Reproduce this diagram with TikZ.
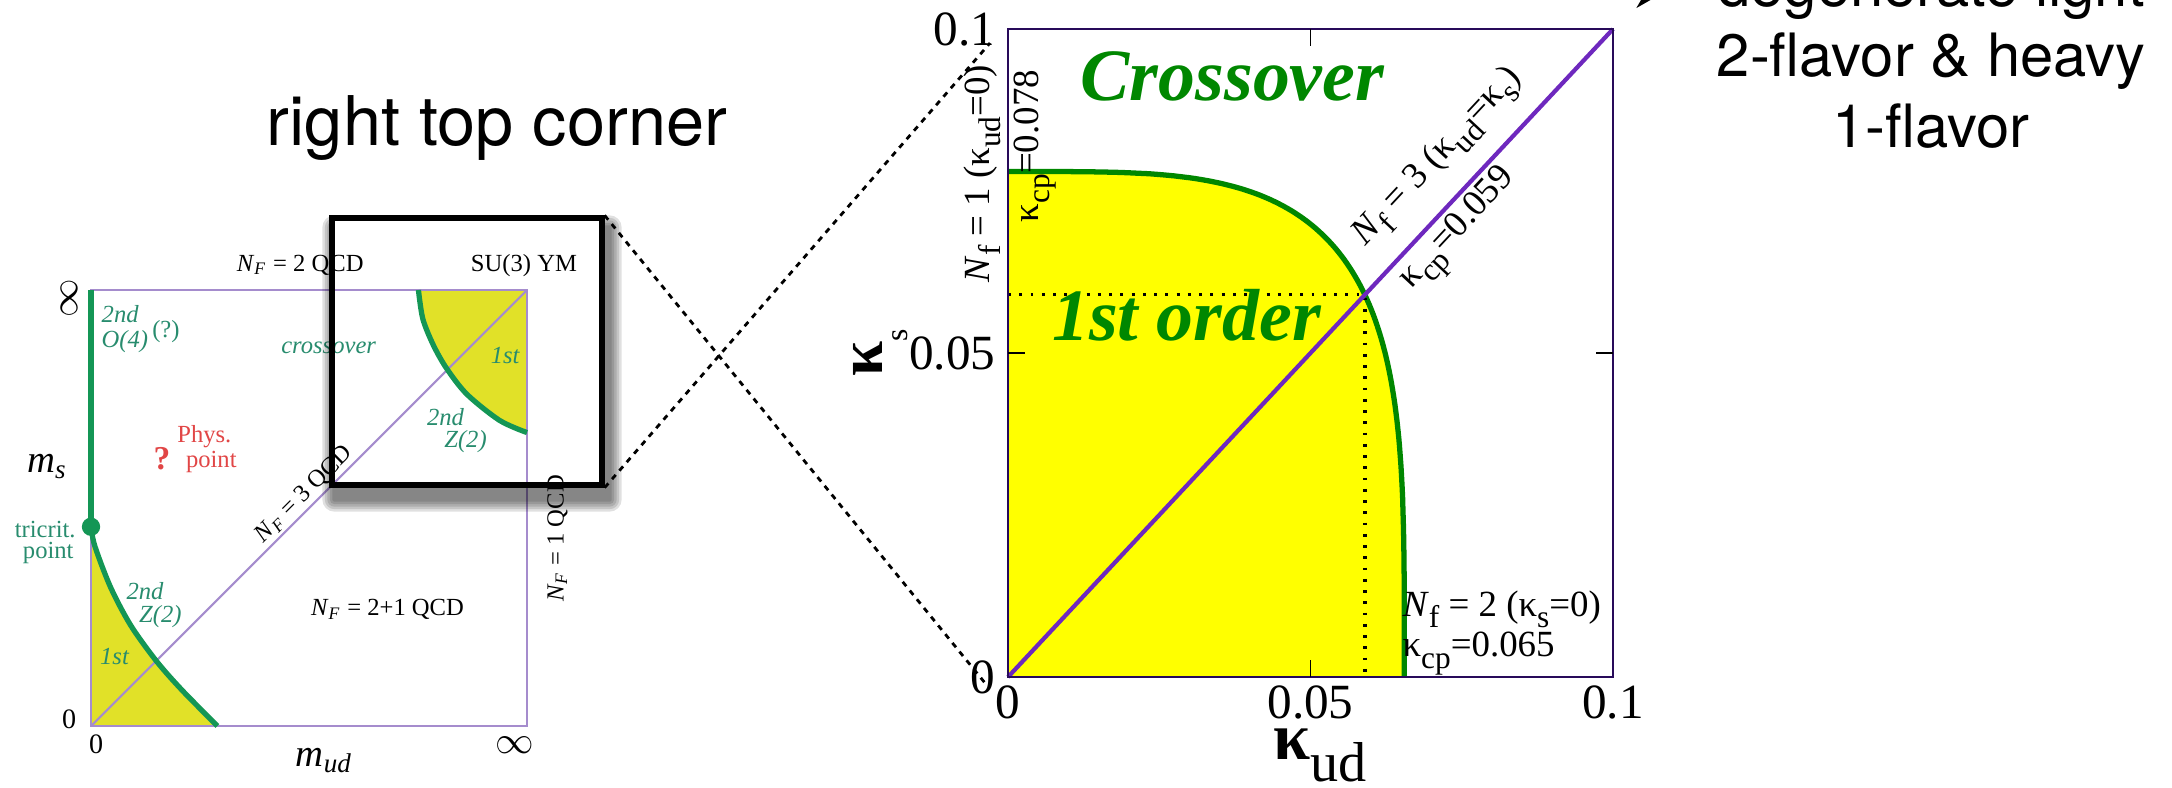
\documentclass[tikz,border=0pt]{standalone}
\usepackage{fontspec}
\usepackage{graphicx}
\setmainfont{Liberation Serif}
\newfontfamily\heros{TeX Gyre Heros}
\usetikzlibrary{
    arrows.meta,
    positioning,
    calc
}
\definecolor{qcdpurple}{RGB}{165,140,205}
\definecolor{qcdgreen}{RGB}{20,150,85}
\definecolor{qcdtext}{RGB}{40,140,110}
\definecolor{qcdyellow}{RGB}{225,225,40}
\definecolor{qcdred}{RGB}{225,70,70}
\definecolor{kapgreen}{RGB}{0,135,0}
\definecolor{kapyellow}{RGB}{255,255,0}
\definecolor{kapviolet}{RGB}{110,40,190}
\definecolor{kapframe}{RGB}{40,10,90}
\newcommand{\lowsub}[1]{\raisebox{-0.3em}{\scalebox{0.85}{#1}}}

\begin{document}
\begin{tikzpicture}[
        x=1cm, y=1cm,
        smalltxt/.style={
            font=\fontsize{7}{8}\selectfont,
            inner sep=0pt
        },
        phase/.style={
            font=\fontsize{7}{8}\selectfont\itshape,
            text=qcdtext,
            inner sep=0pt
        },
        bigphase/.style={
            font=\fontsize{21}{21}\selectfont\bfseries\itshape,
            text=kapgreen,
            inner sep=0pt
        },
        plotlbl/.style={
            font=\fontsize{10.5}{12}\selectfont,
            inner sep=0pt
        },
        ticklbl/.style={
            font=\fontsize{14}{14}\selectfont,
            inner sep=0pt
        },
        heading/.style={
            font=\heros\fontsize{19.5}{20}\selectfont,
            inner sep=0pt
        },
        remark/.style={
            font=\heros\fontsize{17}{20}\selectfont,
            inner sep=0pt
        },
        zoombox/.style={
            draw=black,
            line width=1.5pt,
            minimum width=2.70cm,
            minimum height=2.67cm,
            inner sep=0pt
        },
        zoomline/.style={
            line width=0.8pt,
            dash pattern=on 1.6pt off 1.6pt
        }
    ]

    \useasboundingbox (0,0) rectangle (21.72,7.87);

    \node[heading, anchor=base] (title) at (4.97,6.42) {right top corner};

    % small phase diagram, unit square
    \begin{scope}[shift={(0.91,0.61)}, x=4.36cm, y=4.36cm]
        \fill[qcdyellow] (0,0) -- plot[smooth] coordinates {(0,0.457) (0.009,0.412) (0.045,0.318) (0.091,0.231) (0.15,0.149) (0.209,0.082) (0.29,0)} -- cycle;
        \fill[qcdyellow] (1,1) -- plot[smooth] coordinates {(0.751,1) (0.761,0.934) (0.785,0.874) (0.815,0.821) (0.862,0.761) (0.937,0.701) (1,0.673)} -- cycle;
        \draw[qcdpurple, line width=0.6pt] (0,0) rectangle (1,1);
        \draw[qcdpurple, line width=0.6pt] (0,0) -- (1,1);
        \draw[qcdgreen, line width=1.5pt] plot[smooth] coordinates {(0,0.457) (0.009,0.412) (0.045,0.318) (0.091,0.231) (0.15,0.149) (0.209,0.082) (0.29,0)};
        \draw[qcdgreen, line width=1.5pt] plot[smooth] coordinates {(0.751,1) (0.761,0.934) (0.785,0.874) (0.815,0.821) (0.862,0.761) (0.937,0.701) (1,0.673)};
        \draw[qcdgreen, line width=1.5pt] (0,1) -- (0,0.457);
        \fill[qcdgreen] (0,0.457) circle[radius=0.021];

        \node[smalltxt, anchor=base] (nftwo) at (0.48,1.043) {\textit{N}\textsubscript{\textit{F}} = 2 QCD};
        \node[smalltxt, anchor=base] (suthree) at (0.993,1.043) {SU(3) YM};
        \node[font=\fontsize{11}{11}\selectfont, rotate=90, inner sep=0pt] (inftop) at (-0.05,0.98) {$\infty$};
        \node[font=\fontsize{8}{8}\selectfont, inner sep=0pt] (zeroleft) at (-0.05,0.016) {0};
        \node[font=\fontsize{8}{8}\selectfont, inner sep=0pt] (zerobot) at (0.012,-0.043) {0};
        \node[font=\fontsize{11}{11}\selectfont, inner sep=0pt] (infbot) at (0.972,-0.043) {$\infty$};
        \node[font=\fontsize{11}{11}\selectfont\itshape, inner sep=0pt] (ms) at (-0.1,0.595) {m\textsubscript{s}};
        \node[font=\fontsize{11}{11}\selectfont\itshape, inner sep=0pt] (mud) at (0.535,-0.08) {m\textsubscript{ud}};

        \node[phase, anchor=base west] (otwo) at (0.023,0.925) {2nd};
        \node[phase, anchor=base west] (ofour) at (0.023,0.868) {O(4)\raisebox{0.9ex}{\upshape\,(?)}};
        \node[phase] (crossover) at (0.545,0.867) {crossover};
        \node[smalltxt, text=qcdred] (phys) at (0.26,0.663) {Phys.};
        \node[smalltxt, text=qcdred] (physpt) at (0.276,0.606) {point};
        \node[font=\fontsize{9.5}{10}\selectfont\bfseries, text=qcdred, inner sep=0pt] (qmark) at (0.163,0.612) {?};
        \node[smalltxt, text=qcdtext] (tricrit) at (-0.105,0.45) {tricrit.};
        \node[smalltxt, text=qcdtext] (tript) at (-0.098,0.396) {point};
        \node[phase] (zlowa) at (0.124,0.31) {2nd};
        \node[phase] (zlowb) at (0.159,0.25) {Z(2)};
        \node[phase] (firstlow) at (0.054,0.16) {1st};
        \node[smalltxt, rotate=45, anchor=south, inner sep=0.6pt] (nfthree) at (0.51,0.51) {\textit{N}\textsubscript{\textit{F}} = 3 QCD};
        \node[phase] (zhigha) at (0.813,0.708) {2nd};
        \node[phase] (zhighb) at (0.859,0.652) {Z(2)};
        \node[phase] (firsthigh) at (0.95,0.85) {1st};
        \node[smalltxt] (nftwoone) at (0.68,0.267) {\textit{N}\textsubscript{\textit{F}} = 2+1 QCD};
        \node[smalltxt, rotate=90] (nfone) at (1.07,0.43) {\textit{N}\textsubscript{\textit{F}} = 1 QCD};
    \end{scope}

    % zoom box with its shadow
    \node[zoombox] (zbox) at (4.67,4.355) {};
    \begin{scope}
        \clip (0,0) -- (21.72,0) -- (21.72,7.87) -- (0,7.87) -- cycle
            (zbox.south west) -- (zbox.north west) -- (zbox.north east) -- (zbox.south east) -- cycle;
        \foreach \e in {0.02,0.045,0.07,0.095,0.12}
            \fill[black, opacity=0.12, rounded corners=\e cm] ([shift={(0.05-\e,-0.12-\e)}]zbox.south west) rectangle ([shift={(0.05+\e,-0.12+\e)}]zbox.north east);
    \end{scope}

    \coordinate (lowend) at (9.85,1.04);
    \coordinate (topend) at (9.90,7.44);
    \draw[zoomline] (zbox.north east) -- (lowend);
    \draw[zoomline] (zbox.south east) -- (topend);
    \node[zoombox] at (zbox.center) {};

    % kappa plane, axes in units of 0.01
    \begin{scope}[shift={(10.08,1.10)}, x=0.605cm, y=0.648cm]
        \fill[kapyellow] (0,0) -- (6.55,0) -- plot[domain=0.5:89.5, samples=90, variable=\t] ({6.55*pow(cos(\t),0.5128)},{7.8*pow(sin(\t),0.5128)}) -- (0,7.8) -- cycle;
        \draw[kapgreen, line width=1.5pt] (6.55,0) -- plot[domain=0.5:89.5, samples=90, variable=\t] ({6.55*pow(cos(\t),0.5128)},{7.8*pow(sin(\t),0.5128)}) -- (0,7.8);
        \draw[line width=1pt, dash pattern=on 0.8pt off 2.4pt] (0,5.9) -- (5.9,5.9) -- (5.9,0);
        \draw[kapviolet, line width=1.2pt] (0,0) -- (10,10);
        \draw[kapframe, line width=0.7pt] (0,0) rectangle (10,10);
        \draw[line width=0.5pt] (5,0) -- ++(0,0.26) (5,10) -- ++(0,-0.26) (0,5) -- ++(0.28,0) (10,5) -- ++(-0.28,0);

        \foreach \v/\t in {0/0,5/0.05,10/0.1} {
            \node[ticklbl, anchor=east] (ty\v) at (-0.2,\v) {\t};
            \node[ticklbl, anchor=north] (tx\v) at (\v,-0.12) {\t};
        }
        \node[anchor=base west, inner sep=0pt] (kud) at (4.38,-1.28) {\fontsize{19}{19}\selectfont\bfseries κ\raisebox{-0.22cm}{\fontsize{16}{16}\selectfont\mdseries ud}};
        \node[rotate=90, anchor=base west, inner sep=0pt] (ks) at (-2.08,4.63) {\fontsize{18}{18}\selectfont\bfseries κ\raisebox{-0.25cm}{\fontsize{9}{9}\selectfont\mdseries s}};

        \node[plotlbl, rotate=90, anchor=base west] (nfonek) at (-0.30,6.08) {\textit{N}\lowsub{f} = 1 (κ\lowsub{ud}=0)};
        \node[plotlbl, rotate=90, anchor=base west] (cpone) at (0.51,7.01) {κ\lowsub{cp}=0.078};
        \node[plotlbl, rotate=47, anchor=base west] (nfthreek) at (5.90,6.64) {\textit{N}\lowsub{f} = 3 (κ\lowsub{ud}=κ\lowsub{s})};
        \node[plotlbl, rotate=47, anchor=base west] (cpthree) at (6.66,5.97) {κ\lowsub{cp}=0.059};
        \node[plotlbl, anchor=base west] (nftwok) at (6.51,0.93) {\textit{N}\lowsub{f} = 2 (κ\lowsub{s}=0)};
        \node[plotlbl, anchor=base west] (cptwo) at (6.51,0.31) {κ\lowsub{cp}=0.065};
        \node[bigphase, anchor=base] (xover) at (3.71,8.90) {Crossover};
        \node[bigphase, anchor=base] (firstorder) at (2.95,5.20) {1st order};
    \end{scope}

    \node[remark, anchor=base] (degone) at (19.31,7.81) {degenerate light};
    \node[remark, anchor=base] (degtwo) at (19.31,7.11) {2-flavor \& heavy};
    \node[remark, anchor=base] (degthree) at (19.31,6.40) {1-flavor};
    \coordinate (arrtail) at ([xshift=-1.2cm]degone.west);
    \draw[-{Stealth[length=0.3cm, width=0.34cm]}, line width=2.5pt] (arrtail) -- ([xshift=-0.5cm]degone.west);

\end{tikzpicture}
\end{document}
